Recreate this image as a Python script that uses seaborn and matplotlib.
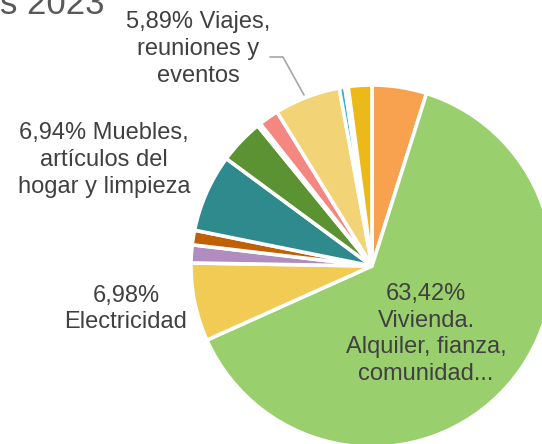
import matplotlib
matplotlib.use("Agg")
import matplotlib.pyplot as plt
import seaborn as sns

# shares (%) clockwise from 12 o'clock
categories = [
    "Otros A", "Vivienda", "Electricidad", "Otros B", "Otros C",
    "Muebles", "Otros D", "Otros E", "Otros F", "Viajes",
    "Otros G", "Otros H", "Otros I",
]
shares = [4.87, 63.42, 6.98, 1.6, 1.3, 6.94, 4.0, 0.3, 1.8, 5.89, 0.5, 0.3, 2.1]
colors = [
    "#F8A14F", "#9ACF6E", "#F2CB55", "#B18CC1", "#C05F04",
    "#2E8A8C", "#5B9232", "#E8C25A", "#F4877F", "#F2D476",
    "#2AB4C0", "#E84B4B", "#EBB919",
]

sns.set_theme(style="white")
plt.rcParams["font.family"] = ["Liberation Sans", "DejaVu Sans"]
palette = sns.color_palette(colors)

fig = plt.figure(figsize=(5.42, 4.44), dpi=100)
ax = fig.add_axes([0, 0, 1, 1])
ax.pie(shares, colors=palette, startangle=90, counterclock=False,
       wedgeprops=dict(edgecolor="white", linewidth=2.6))

# pixel -> data helpers (center at 372,266 px; radius 181 px)
cx, cy, r = 372, 266, 181
def px(x, y):
    return (x - cx) / r, (cy - y) / r

ax.set_aspect("auto")
ax.set_xlim(-cx / r, (542 - cx) / r)
ax.set_ylim(-(444 - cy) / r, cy / r)
ax.axis("off")

txt = dict(color="#404040", fontsize=17, ha="center", va="center",
           multialignment="center", linespacing=1.27)
ax.text(*px(426, 334), "63,42%\nVivienda.\nAlquiler, fianza,\ncomunidad...", **txt)
ax.text(*px(126, 309), "6,98%\nElectricidad", **txt)
ax.text(*px(104, 160), "6,94% Muebles,\nartículos del\nhogar y limpieza", **txt)
ax.text(*px(198, 49), "5,89% Viajes,\nreuniones y\neventos", **txt)

lx, ly = zip(px(270, 57), px(283, 57), px(304, 95))
ax.plot(lx, ly, color="#A6A6A6", linewidth=1.2)

ax.text(*px(0, 14), "s 2023", color="#595959", fontsize=25,
        ha="left", va="baseline")

fig.savefig("out.png", dpi=100)
